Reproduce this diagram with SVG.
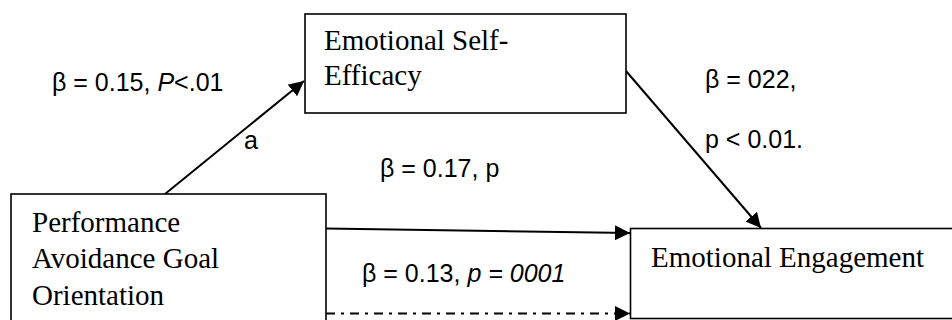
<svg xmlns="http://www.w3.org/2000/svg" width="952" height="320" viewBox="0 0 952 320">
<defs>
<marker id="ah" markerUnits="userSpaceOnUse" markerWidth="16" markerHeight="15" refX="15" refY="7.5" orient="auto">
<path d="M0,0 L15,7.5 L0,15 z" fill="#000"/>
</marker>
<style>
.box{fill:#fff;stroke:#000;stroke-width:1.6}
.t{font-family:"Liberation Serif","Times New Roman",serif;font-size:29px;fill:#000}
.l{font-family:"Liberation Sans",Arial,sans-serif;font-size:25px;fill:#000}
.c{stroke:#000;stroke-width:2;fill:none;marker-end:url(#ah)}
</style>
</defs>
<rect width="952" height="320" fill="#fff"/>
<g id="self-efficacy">
<rect class="box" x="305" y="14" width="321" height="99"/>
<text class="t" x="324" y="50">Emotional Self-</text>
<text class="t" x="324" y="85">Efficacy</text>
</g>
<g id="avoidance">
<rect class="box" x="11" y="194" width="315" height="140"/>
<text class="t" x="32" y="232">Performance</text>
<text class="t" x="32" y="268">Avoidance Goal</text>
<text class="t" x="32" y="305">Orientation</text>
</g>
<g id="engagement">
<rect class="box" x="630.5" y="228.5" width="340" height="90"/>
<text class="t" x="651" y="267">Emotional Engagement</text>
</g>
<g id="connectors">
<line class="c" x1="165" y1="194" x2="304" y2="81"/>
<line class="c" x1="626" y1="71" x2="761" y2="228"/>
<line class="c" x1="326" y1="228.5" x2="630" y2="233"/>
<line class="c" x1="326" y1="313.5" x2="630" y2="313.5" stroke-dasharray="9 6 3 6"/>
</g>
<g id="labels">
<text class="l" x="52" y="91">β = 0.15, <tspan font-style="italic">P</tspan>&lt;.01</text>
<text class="l" x="244" y="149">a</text>
<text class="l" x="380" y="177">β = 0.17, p</text>
<text class="l" x="705" y="88">β = 022,</text>
<text class="l" x="705" y="148">p &lt; 0.01.</text>
<text class="l" x="362" y="282">β = 0.13, <tspan font-style="italic">p = 0001</tspan></text>
</g>
</svg>
